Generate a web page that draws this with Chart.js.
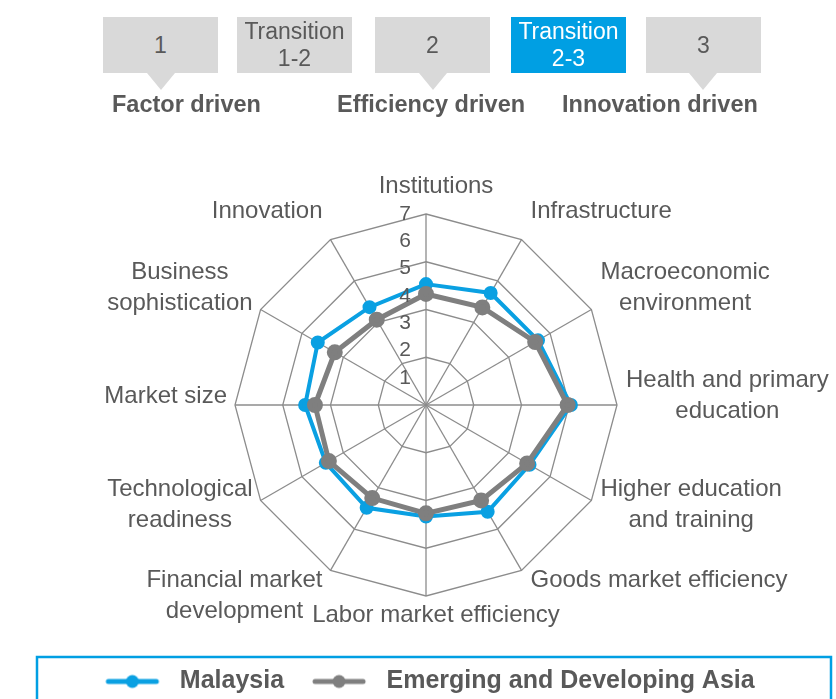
<!DOCTYPE html>
<html>
<head>
<meta charset="utf-8">
<script src="https://cdn.jsdelivr.net/npm/chart.js@4.4.1/dist/chart.umd.min.js"></script>
<style>
  html, body { margin: 0; padding: 0; background: #fff; overflow: hidden; }
  body { font-family: 'Liberation Sans', Arial, sans-serif; color: #595959; }
  #wrap { position: relative; width: 836px; height: 704px; }
  .box { position: absolute; top: 17px; width: 115px; height: 56px; background: #d9d9d9;
         display: flex; align-items: center; justify-content: center; text-align: center;
         font-size: 23px; line-height: 27px; color: #595959; z-index: 2; }
  .box.on { background: #009fe3; color: #fff; }
  .tri { position: absolute; top: 73px; width: 0; height: 0; border-left: 14px solid transparent;
         border-right: 14px solid transparent; border-top: 17px solid #d9d9d9; z-index: 2; }
  .stage { position: absolute; top: 91px; font-size: 23.5px; font-weight: bold; line-height: 26px;
           color: #595959; white-space: nowrap; z-index: 2; }
  canvas { position: absolute; left: 0; top: 0; }
</style>
</head>
<body>
<div id="wrap">
  <div class="box" style="left:103px">1</div>
  <div class="tri" style="left:147px"></div>
  <div class="box" style="left:237px">Transition<br>1-2</div>
  <div class="box" style="left:375px">2</div>
  <div class="tri" style="left:419px"></div>
  <div class="box on" style="left:511px">Transition<br>2-3</div>
  <div class="box" style="left:646px">3</div>
  <div class="tri" style="left:689px"></div>
  <div class="stage" style="left:112px">Factor driven</div>
  <div class="stage" style="left:337px">Efficiency driven</div>
  <div class="stage" style="left:562px">Innovation driven</div>
  <canvas id="radar"></canvas>
</div>
<script>
var categories = [
  ['Institutions'],
  ['Infrastructure'],
  ['Macroeconomic', 'environment'],
  ['Health and primary', 'education'],
  ['Higher education', 'and training'],
  ['Goods market efficiency'],
  ['Labor market efficiency'],
  ['Financial market', 'development'],
  ['Technological', 'readiness'],
  ['Market size'],
  ['Business', 'sophistication'],
  ['Innovation']
];
var malaysia = [4.43, 4.74, 4.74, 5.31, 4.38, 4.52, 4.09, 4.35, 4.24, 4.43, 4.58, 4.14];
var asia = [4.07, 4.13, 4.62, 5.19, 4.28, 4.04, 3.97, 3.94, 4.11, 4.07, 3.86, 3.61];
var tickLabels = [1, 2, 3, 4, 5, 6, 7];

var blue = '#0aa0e2';
var grey = '#7f7f7f';
var textGrey = '#595959';
var fontFamily = "'Liberation Sans', Arial, sans-serif";

Chart.defaults.font.family = fontFamily;
Chart.defaults.color = textGrey;

// little line-with-dot images for the legend
function legendMark(color) {
  var c = document.createElement('canvas');
  c.width = 56; c.height = 16;
  var g = c.getContext('2d');
  g.strokeStyle = color; g.fillStyle = color;
  g.lineWidth = 5; g.lineCap = 'round';
  g.beginPath(); g.moveTo(4, 8); g.lineTo(52, 8); g.stroke();
  g.beginPath(); g.arc(28, 8, 6.5, 0, Math.PI * 2); g.fill();
  return c;
}
var marks = [legendMark(blue), legendMark(grey)];

// value labels 1..7, category labels and legend frame
var axisText = {
  id: 'axisText',
  afterDatasetsDraw: function(chart) {
    var r = chart.scales.r, ctx = chart.ctx;
    ctx.save();
    ctx.fillStyle = textGrey;
    ctx.textBaseline = 'middle';
    ctx.textAlign = 'center';
    ctx.font = '21px ' + fontFamily;
    tickLabels.forEach(function(v) {
      var d = r.getDistanceFromCenterForValue(v);
      ctx.fillText(String(v), r.xCenter - 21, r.yCenter - d);
    });

    ctx.font = '24px ' + fontFamily;
    var lh = 31;
    categories.forEach(function(lines, i) {
      var p = r.getPointPosition(i, r.drawingArea);
      var s = Math.cos(p.angle), c = -Math.sin(p.angle);
      var w = 0;
      lines.forEach(function(t) { w = Math.max(w, ctx.measureText(t).width); });
      var h = lines.length * lh;
      var cx, top;
      if (s > 0.1) cx = p.x + 9 + w / 2;
      else if (s < -0.1) cx = p.x - 8 - w / 2;
      else cx = p.x + 10;
      if (Math.abs(s) < 0.1) top = c > 0 ? p.y - 12 - h : p.y + 4;
      else if (c > 0.7) top = p.y - 13 - h;
      else if (c < -0.7) top = p.y - 6;
      else top = p.y - 9 - 26 * c - h / 2;
      lines.forEach(function(t, k) {
        ctx.fillText(t, cx, top + lh / 2 + k * lh);
      });
    });
    ctx.restore();
  },
  afterDraw: function(chart) {
    var lg = chart.legend, ctx = chart.ctx;
    var rowTop = lg.top + lg._computeTitleHeight() + lg.options.labels.padding;
    ctx.save();
    ctx.strokeStyle = '#009fe3';
    ctx.lineWidth = 2.5;
    ctx.strokeRect(lg.left + 21, rowTop - 12, lg.right - lg.left - 26, 80);
    ctx.restore();
  }
};

var ctx = document.getElementById('radar').getContext('2d');
var radar = new Chart(ctx, {
  type: 'radar',
  data: {
    labels: categories,
    datasets: [{
      label: 'Malaysia',
      data: malaysia,
      borderColor: blue,
      backgroundColor: blue,
      pointBackgroundColor: blue,
      pointBorderColor: blue,
      borderWidth: 4,
      pointRadius: 5,
      fill: false,
      order: 1
    }, {
      label: 'Emerging and Developing Asia',
      data: asia,
      borderColor: grey,
      backgroundColor: grey,
      pointBackgroundColor: grey,
      pointBorderColor: grey,
      borderWidth: 5,
      pointRadius: 5.5,
      fill: false,
      order: 0
    }]
  },
  options: {
    responsive: true,
    maintainAspectRatio: false,
    animation: false,
    layout: { padding: { top: 214, left: 16, right: 0, bottom: 0 } },
    elements: { line: { tension: 0 } },
    scales: {
      r: {
        min: 0,
        max: 7,
        ticks: { display: false, stepSize: 1.75 },
        grid: { color: '#8c8c8c', lineWidth: 1.3 },
        angleLines: { color: '#8c8c8c', lineWidth: 1.3 },
        pointLabels: { display: false }
      }
    },
    plugins: {
      tooltip: { enabled: true },
      legend: {
        position: 'bottom',
        title: { display: true, text: '', font: { size: 10 }, padding: { top: 40, bottom: 0 } },
        labels: {
          usePointStyle: true,
          pointStyleWidth: 70,
          padding: 20,
          color: textGrey,
          font: { size: 25, weight: 'bold' },
          sort: function(a, b) { return a.datasetIndex - b.datasetIndex; },
          generateLabels: function(chart) {
            var items = Chart.defaults.plugins.legend.labels.generateLabels(chart);
            items.forEach(function(it) { it.pointStyle = marks[it.datasetIndex]; });
            return items;
          }
        }
      }
    }
  },
  plugins: [axisText]
});
</script>
</body>
</html>
